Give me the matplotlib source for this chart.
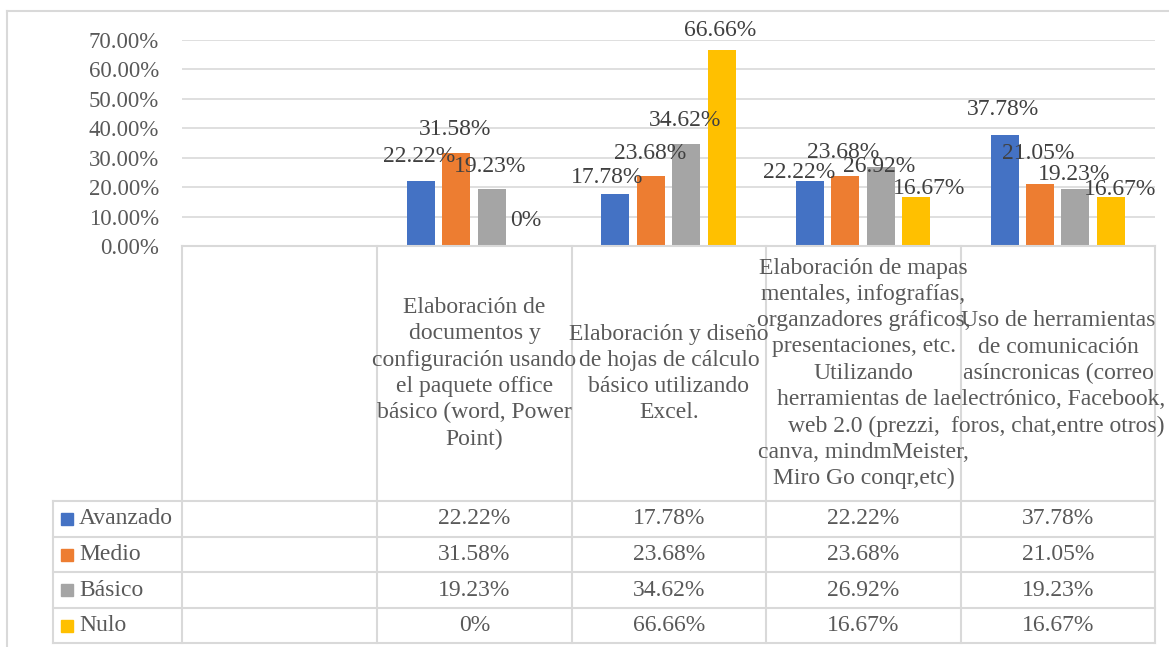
import matplotlib.pyplot as plt
import numpy as np
from matplotlib.patches import Rectangle

plt.rcParams['font.family'] = ['Liberation Serif', 'DejaVu Serif']

# ---------------- data ----------------
categories = [
    "",
    "Elaboración de\ndocumentos y\nconfiguración usando\nel paquete office\nbásico (word, Power\nPoint)",
    "Elaboración y diseño\nde hojas de cálculo\nbásico utilizando\nExcel.",
    "Elaboración de mapas\nmentales, infografías,\norganzadores gráficos,\npresentaciones, etc.\nUtilizando\nherramientas de la\nweb 2.0 (prezzi,\ncanva, mindmMeister,\nMiro Go conqr,etc)",
    "Uso de herramientas\nde comunicación\nasíncronicas (correo\nelectrónico, Facebook,\nforos, chat,entre otros)",
]
series_names = ["Avanzado", "Medio", "Básico", "Nulo"]
avanzado = [22.22, 17.78, 22.22, 37.78]
medio = [31.58, 23.68, 23.68, 21.05]
basico = [19.23, 34.62, 26.92, 19.23]
nulo = [0, 66.66, 16.67, 16.67]
series = [avanzado, medio, basico, nulo]
colors = ["#4472C4", "#ED7D31", "#A5A5A5", "#FFC000"]
yticks = [0, 10, 20, 30, 40, 50, 60, 70]

# label nudges in pixels (dx, dy up) relative to bar top, per category / series
label_nudge = [
    [(-2, 24), (-1.5, 24), (-1, 23), (-1, 25)],
    [(-8.5, 16), (-1, 23), (-1, 24), (-2, 19)],
    [(-10.5, 8), (-2, 24), (-2, 0), (13, 8)],
    [(-2, 25), (-2, 31), (-1.5, 15), (9, 7)],
]


def pct(v):
    return "0%" if v == 0 else f"{v:.2f}%"


# ---------------- layout ----------------
W, H = 1169, 647
fig = plt.figure(figsize=(W / 100, H / 100), dpi=100)
text_c = "#595959"
line_c = "#d9d9d9"
fs = 17

x0, x1 = 182, 1155
y0, y70 = 246, 40
ax = fig.add_axes([x0 / W, 1 - y0 / H, (x1 - x0) / W, (y0 - y70) / H])

n_cat = len(categories)
group_x = np.arange(1, n_cat) + 0.5
bar_w = 0.144
step = 0.182
for j, vals in enumerate(series):
    xs = group_x + (j - 1.5) * step
    ax.bar(xs, vals, width=bar_w, color=colors[j], zorder=2)
    for i, (x, v) in enumerate(zip(xs, vals)):
        dx, dy = label_nudge[i][j]
        ax.annotate(pct(v), (x, v), xytext=(dx, dy), textcoords="offset pixels",
                    ha="center", va="center", fontsize=fs, color="#404040",
                    annotation_clip=False, zorder=3)

ax.set_xlim(0, n_cat)
ax.set_ylim(0, 70)
ax.set_yticks(yticks)
ax.set_yticklabels([f"{t:.2f}%" for t in yticks])
ax.set_xticks([])
ax.tick_params(axis="y", length=0, pad=16.5, labelsize=16.5, labelcolor=text_c)
ax.yaxis.grid(True, color=line_c, lw=1.2)
ax.set_axisbelow(True)
for s in ax.spines.values():
    s.set_visible(False)

# ---------------- data table (overlay in pixel coords) ----------------
ov = fig.add_axes([0, 0, 1, 1])
ov.set_xlim(0, W)
ov.set_ylim(H, 0)
ov.axis("off")

col_x = [182, 377, 572, 766, 961, 1155]
row_y = [501, 537, 572, 608, 643]
tab_left = 53
lw = 1.5

ov.plot([x0, x1], [y0, y0], color=line_c, lw=lw)
for y in row_y:
    ov.plot([tab_left, x1], [y, y], color=line_c, lw=lw)
for x in col_x:
    ov.plot([x, x], [y0, row_y[-1]], color=line_c, lw=lw)
ov.plot([tab_left, tab_left], [row_y[0], row_y[-1]], color=line_c, lw=lw)

# outer chart border
ov.plot([7, 7], [11, H], color=line_c, lw=lw)
ov.plot([7, W], [11, 11], color=line_c, lw=lw)

# category labels
for i, cat in enumerate(categories):
    cx = (col_x[i] + col_x[i + 1]) / 2
    ov.text(cx, (y0 + row_y[0]) / 2, cat, ha="center", va="center",
            fontsize=fs, color=text_c, linespacing=1.33, multialignment="center")

# rows
for j, name in enumerate(series_names):
    yc = (row_y[j] + row_y[j + 1]) / 2
    ov.add_patch(Rectangle((61, yc - 6), 12, 12, color=colors[j]))
    ov.text(79, yc, name, ha="left", va="center", fontsize=fs, color=text_c)
    for i, v in enumerate(series[j]):
        cx = (col_x[i + 1] + col_x[i + 2]) / 2
        ov.text(cx, yc, pct(v), ha="center", va="center", fontsize=fs, color=text_c)

fig.savefig("out.png", dpi=100)
